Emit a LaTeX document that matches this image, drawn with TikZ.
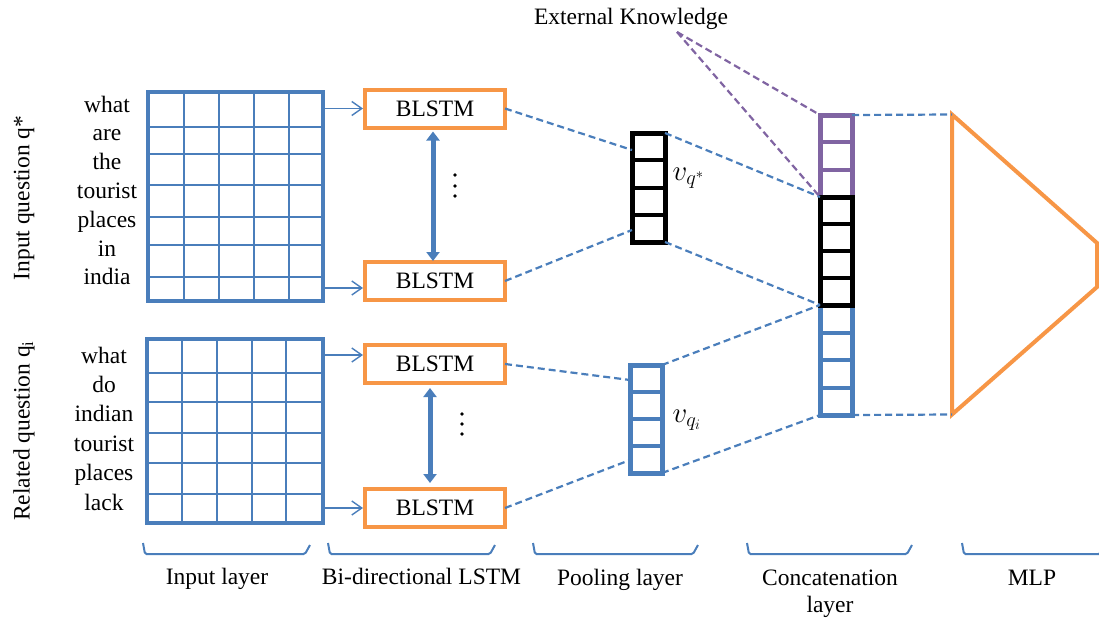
\RequirePackage{fix-cm}
\documentclass[tikz,border=0pt]{standalone}
\usepackage{fontspec}
\setmainfont{Liberation Serif}
\usetikzlibrary{arrows.meta,calc}
\definecolor{nnblue}{HTML}{4A7EBB}
\definecolor{nnorange}{HTML}{F79646}
\definecolor{nnpurple}{HTML}{8064A2}
\tikzset{
  gridbox/.style={draw=nnblue, line width=4pt, inner sep=0pt, outer sep=0pt},
  gridline/.style={draw=nnblue, line width=2pt},
  lstm/.style={draw=nnorange, line width=4pt, fill=white, minimum width=140pt,
    minimum height=38pt, inner sep=0pt, outer sep=0pt},
  feed/.style={draw=nnblue, line width=1.4pt, -{Straight Barb[length=10pt,width=14pt]}},
  both/.style={draw=nnblue, line width=5pt,
    {Triangle[length=9pt,width=13pt]}-{Triangle[length=9pt,width=13pt]}},
  link/.style={draw=nnblue, line width=2.2pt, dash pattern=on 7pt off 4pt},
  klink/.style={link, draw=nnpurple},
  vecbox/.style={line width=5pt, fill=white, inner sep=0pt, outer sep=0pt},
  divider/.style={line width=4pt},
  word/.style={anchor=base},
  bracket/.style={draw=nnblue, line width=2pt, rounded corners=1.5pt},
  lbl/.style={anchor=base},
  veclbl/.style={anchor=west, font=\fontsize{29}{33}\selectfont},
  dot/.style={fill=black}
}
\begin{document}
\begin{tikzpicture}[x=1pt,y=-1pt,font=\fontsize{23.5}{28}\selectfont]
\useasboundingbox (0,0) rectangle (1099,618);

% side labels
\node[rotate=90] (lq) at (24,198) {Input question q*};
\node[rotate=90] (lr) at (24,431) {Related question q\textsubscript{i}};

% words of the two questions
\foreach \w [count=\k] in {what,are,the,tourist,places,in,india}
  \node[word] (wa\k) at (107,{112+28.8*(\k-1)}) {\w};
\foreach \w [count=\k] in {what,do,indian,tourist,places,lack}
  \node[word] (wb\k) at (104,{363+29.4*(\k-1)}) {\w};

% input embedding grids
\node[gridbox, minimum width=175pt, minimum height=209pt] (g1) at (235.5,196.5) {};
\foreach \y in {127,154,185,217,245,277}
  \draw[gridline] (g1.west |- 0,\y) -- (g1.east |- 0,\y);
\foreach \x in {184,219,254,289}
  \draw[gridline] (g1.north -| \x,0) -- (g1.south -| \x,0);

\node[gridbox, minimum width=176pt, minimum height=184pt] (g2) at (235,431) {};
\foreach \y in {373,402,433,463,494}
  \draw[gridline] (g2.west |- 0,\y) -- (g2.east |- 0,\y);
\foreach \x in {182,217,252,286}
  \draw[gridline] (g2.north -| \x,0) -- (g2.south -| \x,0);

% BLSTM cells
\node[lstm] (b1) at (435,108.5) {BLSTM};
\node[lstm] (b2) at (435,281) {BLSTM};
\node[lstm] (b3) at (435,364) {BLSTM};
\node[lstm] (b4) at (435,508) {BLSTM};

\draw[feed] (g1.east |- b1.west) -- ([xshift=-2pt]b1.west);
\draw[feed] ($(g1.east |- b2.west)+(0,7)$) -- ($(b2.west)+(-2,7)$);
\draw[feed] ($(g2.east |- b3.west)+(0,-9)$) -- ($(b3.west)+(-2,-9)$);
\draw[feed] (g2.east |- b4.west) -- ([xshift=-2pt]b4.west);

\draw[both, shorten <=4pt, shorten >=1pt] ([xshift=-2pt]b1.south) -- ([xshift=-2pt]b2.north);
\draw[both, shorten <=5pt, shorten >=6pt] ([xshift=-5pt]b3.south) -- ([xshift=-5pt]b4.north);

\foreach \y in {175,186,196} \fill[dot] (455,\y) circle (1.9pt);
\foreach \y in {414,424,434} \fill[dot] (462,\y) circle (1.9pt);

% pooled vectors
\node[vecbox, draw=black, minimum width=33pt, minimum height=109pt] (vq) at (648.5,187.5) {};
\foreach \y in {160.25,187.5,214.75}
  \draw[divider, black] (vq.west |- 0,\y) -- (vq.east |- 0,\y);
\node[vecbox, draw=nnblue, minimum width=32pt, minimum height=108pt] (vqi) at (646,419) {};
\foreach \y in {392,419,446}
  \draw[divider, nnblue] (vqi.west |- 0,\y) -- (vqi.east |- 0,\y);

\node[veclbl] (lvq) at (669,178) {$v_{q^*}$};
\node[veclbl] (lvqi) at (669,420) {$v_{q_i}$};

% concatenated vector
\node[vecbox, draw=nnpurple, minimum width=32pt, minimum height=82pt] (cp) at (836,156) {};
\foreach \y in {142.3,169.7}
  \draw[divider, nnpurple] (cp.west |- 0,\y) -- (cp.east |- 0,\y);
\node[vecbox, draw=nnblue, minimum width=32pt, minimum height=110pt] (cu) at (836,360) {};
\foreach \y in {332.5,360,387.5}
  \draw[divider, nnblue] (cu.west |- 0,\y) -- (cu.east |- 0,\y);
\node[vecbox, draw=black, minimum width=32pt, minimum height=108pt] (cb) at (836,251) {};
\foreach \y in {224,251,278}
  \draw[divider, black] (cb.west |- 0,\y) -- (cb.east |- 0,\y);

% MLP
\coordinate (m1) at (952,114.5);
\coordinate (m2) at (1097,243);
\coordinate (m3) at (1097,287);
\coordinate (m4) at (952,414.5);
\draw[nnorange, line width=4pt, line join=miter] (m1) -- (m2) -- (m3) -- (m4) -- cycle;

% dashed links
\draw[link] (b1.east) -- ($(vq.west)+(0,-37.5)$);
\draw[link] (b2.east) -- ($(vq.west)+(0,42.5)$);
\draw[link] (b3.east) -- ($(vqi.west)+(0,-39)$);
\draw[link] (b4.east) -- ($(vqi.west)+(0,41)$);
\draw[link] (vq.north east) -- (cb.north west);
\draw[link] (vq.south east) -- (cb.south west);
\draw[link] (vqi.north east) -- (cb.south west);
\draw[link] (vqi.south east) -- (cu.south west);
\draw[link] (cp.north east) -- (m1);
\draw[link] (cu.south east) -- (m4);

% external knowledge
\node[lbl] (ek) at (631,25) {External Knowledge};
\coordinate (ekp) at (677,32);
\draw[klink] (ekp) -- (cp.north west);
\draw[klink] (ekp) -- (cp.south west);

% layer brackets and names
\foreach \a/\b in {143/310,328/495,533/698,747/912,962/1105}
  \draw[bracket] (\a,543) -- (\a+2,554) -- (\b-5,554) -- (\b,545);
\node[lbl] (t1) at (217,584) {Input layer};
\node[lbl] (t2) at (421.5,584) {Bi-directional LSTM};
\node[lbl] (t3) at (620,585) {Pooling layer};
\node[lbl] (t4) at (830,585) {Concatenation};
\node[lbl] (t4b) at (830,612) {layer};
\node[lbl] (t5) at (1032,585) {MLP};
\end{tikzpicture}
\end{document}
